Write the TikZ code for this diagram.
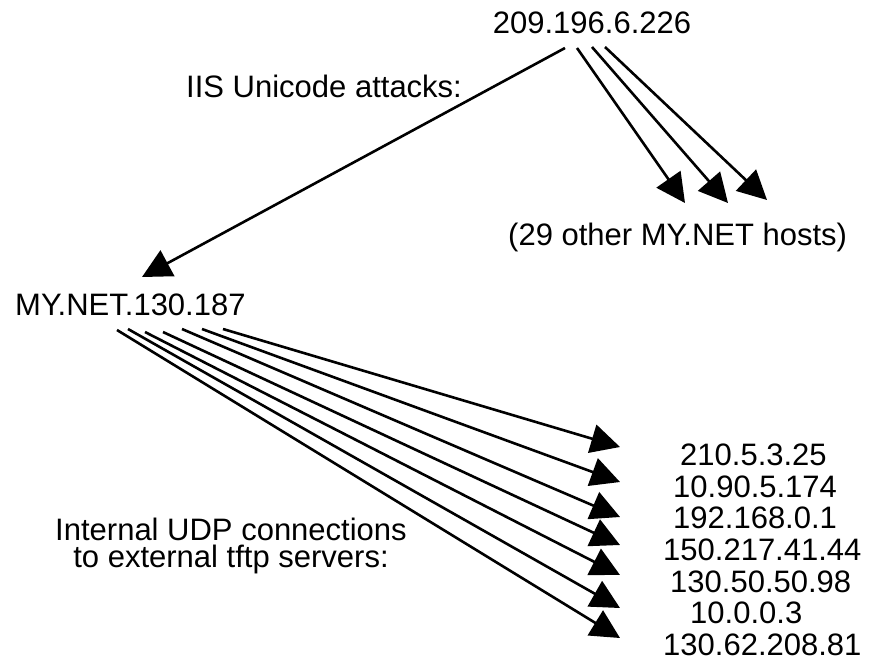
\documentclass[tikz,border=0pt]{standalone}
\usepackage{fontspec}
\setmainfont{Liberation Sans}
\usetikzlibrary{arrows.meta}

\begin{document}
\begin{tikzpicture}[x=1pt,y=-1pt,>={Triangle[length=29pt,width=29pt]},
  lbl/.style={inner sep=0,font=\fontsize{31}{27}\selectfont},
  link/.style={->,line width=2.6pt}]
\useasboundingbox (0,0) rectangle (869,662);
\node[lbl,anchor=base] (src) at (592,33) {209.196.6.226};
\node[lbl,anchor=base west] (iis) at (186,97) {IIS Unicode attacks:};
\node[lbl,anchor=base west] (others) at (508,245) {(29 other MY.NET hosts)};
\node[lbl,anchor=base west] (host) at (15,315) {MY.NET.130.187};
\node[lbl,anchor=base] (udp) at (231,540) {Internal UDP connections};
\node[lbl,anchor=base] (udp2) at (231,567) {to external tftp servers:};
% tftp servers
\foreach \ip/\x/\y [count=\i] in {210.5.3.25/680/465,10.90.5.174/673/497,192.168.0.1/673/528,
  150.217.41.44/663/560,130.50.50.98/670/592,10.0.0.3/690/623,130.62.208.81/663/655}
  \node[lbl,anchor=base west] (ip\i) at (\x,\y) {\ip};
% attack from 209.196.6.226
\coordinate (a0) at (565,48);
\coordinate (b0) at (142,277);
\draw[link] (a0)--(b0);
\foreach \i/\ax/\ay/\bx/\by in {1/577/48/685/203,2/592/47/728/203,3/605/47/767/200}{
  \coordinate (a\i) at (\ax,\ay);
  \coordinate (b\i) at (\bx,\by);
  \draw[link] (a\i)--(b\i);
}
% udp connections from MY.NET.130.187
\foreach \i/\cx/\cy/\dy in {1/223/329/447,2/202/329/482,3/182/329/517,4/163/332/545,
  5/145/332/575,6/128/329/608,7/117/330/638}{
  \coordinate (c\i) at (\cx,\cy);
  \coordinate (d\i) at (620,\dy);
  \draw[link] (c\i)--(d\i);
}
\end{tikzpicture}
\end{document}
